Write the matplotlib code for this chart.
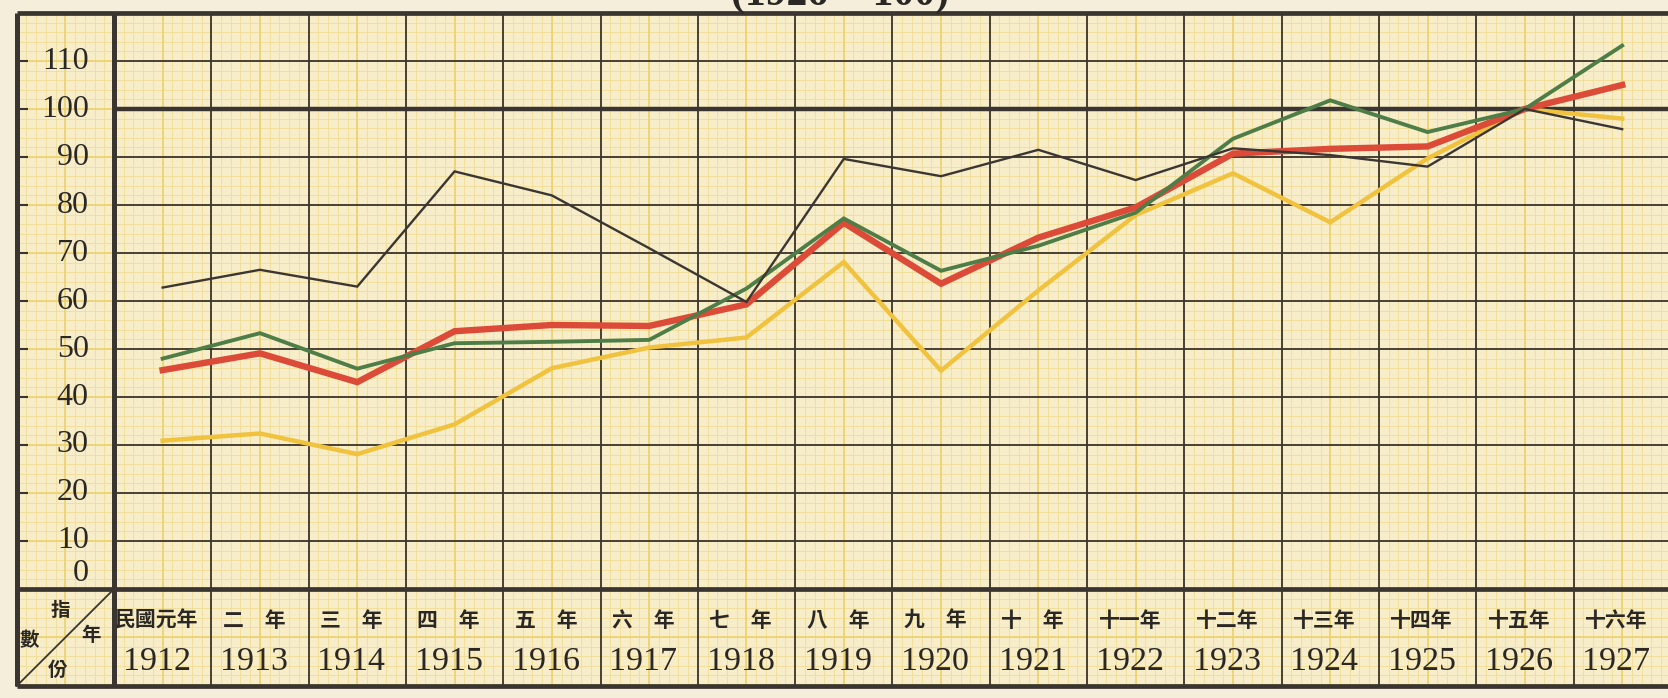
import matplotlib
matplotlib.use("Agg")
import matplotlib.pyplot as plt
import numpy as np
from matplotlib.patches import Rectangle

# ---------------- data ----------------
years = [1912, 1913, 1914, 1915, 1916, 1917, 1918, 1919,
         1920, 1921, 1922, 1923, 1924, 1925, 1926, 1927]
year_labels_cn = ["民國元年", "二　年", "三　年", "四　年", "五　年", "六　年",
                  "七　年", "八　年", "九　年", "十　年", "十一年", "十二年",
                  "十三年", "十四年", "十五年", "十六年"]
y_ticks = [0, 10, 20, 30, 40, 50, 60, 70, 80, 90, 100, 110]

black_index = [62.8, 66.5, 63.0, 87.0, 82.0, 71.0, 59.8, 89.6,
               86.0, 91.5, 85.2, 91.8, 90.4, 88.0, 100.0, 95.8]
red_index = [45.6, 49.1, 43.1, 53.7, 55.0, 54.8, 59.3, 76.3,
             63.6, 73.2, 79.5, 90.7, 91.7, 92.2, 100.0, 105.0]
green_index = [48.0, 53.3, 45.9, 51.2, 51.5, 51.9, 62.6, 77.2,
               66.3, 71.5, 78.4, 93.8, 101.8, 95.2, 100.0, 113.2]
yellow_index = [30.9, 32.4, 28.1, 34.3, 46.0, 50.3, 52.4, 68.1,
                45.5, 62.2, 77.9, 86.6, 76.4, 89.7, 100.0, 98.0]

title_text = "(1926 = 100)"

# ---------------- layout ----------------
W, H = 1668, 698
COLW = 97.3      # px per year column
PXU = 4.8        # px per index unit
X0 = 114         # px of the label-column border
Y0 = 589         # px of the zero line
TOP = 120.0
BOT = -20.2

DARK = "#3a3530"
TXT = "#2b2724"
PAPER = "#f7edc9"
MARGIN = "#f5eedb"
FINE = "#f0dd96"
MED = "#ecd26c"

fig = plt.figure(figsize=(W / 100, H / 100), dpi=100)
fig.patch.set_facecolor(MARGIN)
ax = fig.add_axes([0, 0, 1, 1])
ax.set_xlim(-X0 / COLW, (W - X0) / COLW)
ax.set_ylim(-(H - Y0) / PXU, Y0 / PXU)
ax.axis("off")

ncol = len(years)
xr = ncol + 0.5
ax.add_patch(Rectangle((-1, BOT), xr + 1, TOP - BOT, facecolor=PAPER,
                       edgecolor="none", zorder=0))

# fine yellow graph-paper grid
fx = np.arange(-1, xr, 0.1)
ax.vlines(fx, BOT, TOP, colors=FINE, lw=0.6, zorder=1)
fy = np.arange(-20, TOP, 2)
ax.hlines(fy, -1, xr, colors=FINE, lw=0.6, zorder=1)
# medium yellow lines
ax.vlines(np.arange(-0.5, xr, 0.5), BOT, TOP, colors=MED, lw=1.2, zorder=1)
ax.hlines(np.arange(-20, TOP, 10), -1, xr, colors=MED, lw=1.2, zorder=1)

# dark grid
ax.hlines([t for t in y_ticks if 0 < t < 100] + [110], 0, xr,
          colors=DARK, lw=1.3, zorder=2)
ax.hlines([100], 0, xr, colors=DARK, lw=3.2, zorder=2)
ax.vlines(np.arange(1, ncol + 1), BOT, TOP, colors=DARK, lw=1.3, zorder=2)
ax.vlines([-1, 0], BOT, TOP, colors=DARK, lw=3.6, zorder=2)
ax.hlines([TOP, 0, BOT], -1, xr, colors=DARK, lw=3.4, zorder=2)
# ticks on left border
ax.hlines([t for t in y_ticks if t > 0], -1, -0.88, colors=DARK, lw=1.5, zorder=2)
# diagonal in header cell
ax.plot([-1, 0], [BOT, 0], color=DARK, lw=1.3, zorder=2)

# y labels
for t in y_ticks:
    yy = t if t > 0 else 3.2
    ax.text(-0.26, yy, str(t), ha="right", va="center", fontsize=23,
            family="Liberation Serif", color=TXT, zorder=5)

# column labels
xc = np.arange(ncol) + 0.5
for x, yr, cn in zip(xc, years, year_labels_cn):
    ax.text(x - 0.06, -6.5, cn, ha="center", va="center", fontsize=15,
            family=["Noto Sans CJK TC", "DejaVu Sans"], fontweight="bold",
            color=TXT, zorder=5)
    ax.text(x - 0.06, -15.2, str(yr), ha="center", va="center", fontsize=24.5,
            family="Liberation Serif", color=TXT, zorder=5)

# header cell characters
cjk = ["Noto Sans CJK TC", "DejaVu Sans"]
for s, x, y in [("指", -0.555, -4.4), ("數", -0.874, -10.8),
                ("年", -0.237, -9.6), ("份", -0.576, -16.9)]:
    ax.text(x, y, s, ha="center", va="center", fontsize=14, family=cjk,
            fontweight="bold", color=TXT, zorder=5)

# title (cut off by the top edge as in the scan)
ax.text(7.46, (Y0 - 5) / PXU, title_text, ha="center", va="baseline",
        fontsize=30, family="Liberation Serif", fontweight="bold",
        color=TXT, zorder=5)

# data lines
ax.plot(xc, yellow_index, color="#f1c23e", lw=3.2, zorder=6,
        solid_joinstyle="miter")
ax.plot(xc, red_index, color="#dc4a38", lw=4.6, zorder=7,
        solid_joinstyle="miter")
ax.plot(xc, green_index, color="#4e7d47", lw=2.8, zorder=8,
        solid_joinstyle="miter")
ax.plot(xc, black_index, color="#3b3632", lw=1.7, zorder=9,
        solid_joinstyle="miter")

fig.savefig("out.png", dpi=100, facecolor=fig.get_facecolor())
